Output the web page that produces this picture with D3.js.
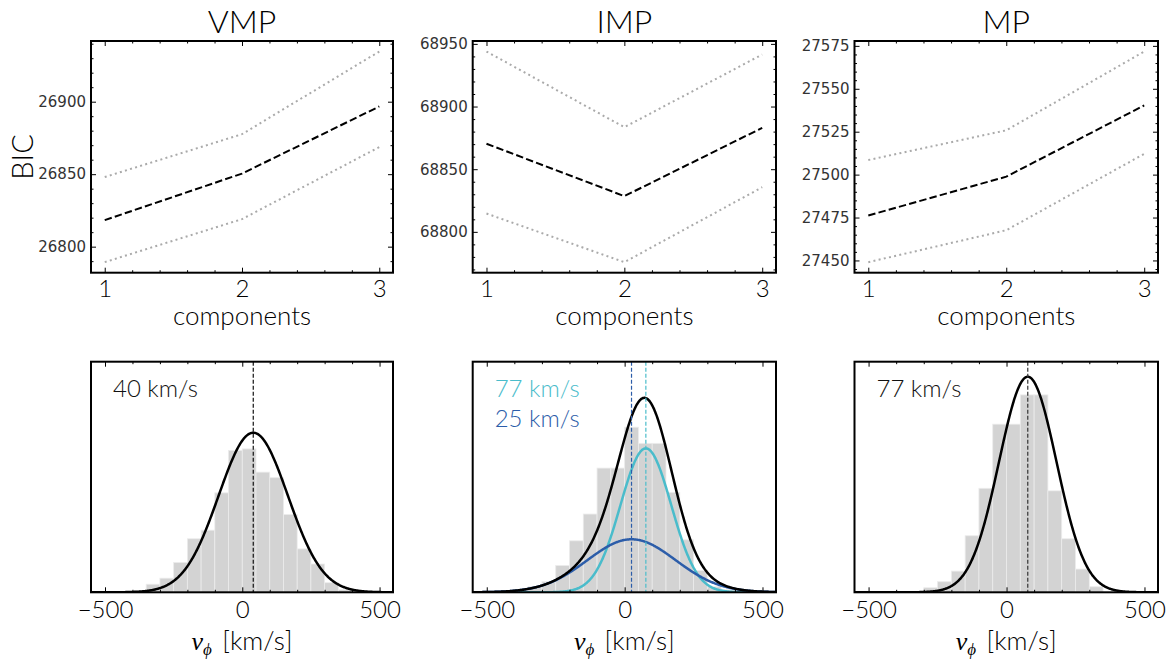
<!DOCTYPE html>
<html><head><meta charset="utf-8">
<script src="https://cdn.jsdelivr.net/npm/d3@7"></script>
<style>body{margin:0;background:#fff}svg{display:block}</style>
</head><body>
<svg id="c" width="1171" height="660"></svg>
<script>
// ---------------- data ----------------
const titles = ["VMP", "IMP", "MP"];
const components = [1, 2, 3];

const bicVMP = [26818.3, 26850.4, 26896.7];
const bicVMPUpper = [26848.0, 26877.6, 26934.6];
const bicVMPLower = [26789.3, 26819.0, 26868.7];

const bicIMP = [68870.3, 68828.5, 68883.0];
const bicIMPUpper = [68943.9, 68883.5, 68941.5];
const bicIMPLower = [68814.6, 68775.8, 68835.6];

const bicMP = [27476.2, 27498.8, 27540.3];
const bicMPUpper = [27508.5, 27525.8, 27571.7];
const bicMPLower = [27449.0, 27467.6, 27512.1];

const yTicksVMP = [26800, 26850, 26900];
const yTicksIMP = [68800, 68850, 68900, 68950];
const yTicksMP = [27450, 27475, 27500, 27525, 27550, 27575];
const yMinorStep = [10, 10, 5];

const xTicksTop = [1, 2, 3];
const xTicksBottom = [-500, 0, 500];

// histograms of v_phi (density, 1e-3 per km/s), bins of 50 km/s
const binWidth = 50;
const histVMPStart = -400;
const histVMP = [0.03, 0.16, 0.28, 0.59, 1.06, 1.23, 1.97, 2.81, 2.84, 2.38, 2.27, 1.54, 0.86, 0.56, 0.19, 0.05];
const histIMPStart = -350;
const histIMP = [0.11, 0.21, 0.53, 1.02, 1.55, 2.46, 2.46, 3.27, 2.95, 2.95, 1.98, 1.04, 0.43, 0.11, 0.05];
const histMPStart = -350;
const histMP = [0.01, 0.09, 0.21, 0.42, 1.12, 2.06, 3.33, 3.33, 3.91, 3.91, 2.01, 1.06, 0.46, 0.11];

// gaussian components: mean, sigma, peak amplitude (same units as histogram)
const compVMP = [{mu: 40, sigma: 126, amp: 3.16}];
const compIMP = [{mu: 77, sigma: 92, amp: 2.85}, {mu: 25, sigma: 160, amp: 1.05}];
const compMP = [{mu: 77, sigma: 104, amp: 4.27}];
const histYMax = [4.567, 4.567, 4.567];

const labelsVMP = ["40 km/s"];
const labelsIMP = ["77 km/s", "25 km/s"];
const labelsMP = ["77 km/s"];

// ---------------- layout / style ----------------
const CYAN = "#4abccb", BLUE = "#2c5da9";
const FONT = "Lato, 'Open Sans', sans-serif";
const FW = 300;
const cols = [{x0: 91, x1: 393}, {x0: 472.7, x1: 776}, {x0: 854.5, x1: 1158}];
const rowTop = {y0: 41, y1: 272.7};
const rowBot = {y0: 361.7, y1: 592.3};

const svg = d3.select("#c");

const topData = [
  {mid: bicVMP, up: bicVMPUpper, lo: bicVMPLower, yt: yTicksVMP},
  {mid: bicIMP, up: bicIMPUpper, lo: bicIMPLower, yt: yTicksIMP},
  {mid: bicMP, up: bicMPUpper, lo: bicMPLower, yt: yTicksMP}
];
const botData = [
  {start: histVMPStart, h: histVMP, comps: compVMP, labels: labelsVMP, colors: ["#111"], lineColors: ["#111"]},
  {start: histIMPStart, h: histIMP, comps: compIMP, labels: labelsIMP, colors: [CYAN, BLUE], lineColors: [CYAN, BLUE]},
  {start: histMPStart, h: histMP, comps: compMP, labels: labelsMP, colors: ["#111"], lineColors: ["#333"]}
];

function styleAxis(g, fs, family, color, weight) {
  g.select(".domain").remove();
  g.selectAll(".tick line").attr("stroke", "#000").attr("stroke-width", 1);
  g.selectAll(".tick text").attr("font-size", fs).attr("font-family", family)
    .attr("font-weight", weight || FW).attr("fill", color || "#000");
}

function minorVals(domain, step, majors) {
  const out = [];
  const s = Math.ceil(domain[0] / step) * step;
  for (let v = s; v <= domain[1] + 1e-9; v += step) {
    const r = Math.round(v * 1000) / 1000;
    if (!majors.some(m => Math.abs(m - r) < 1e-6)) out.push(r);
  }
  return out;
}

topData.forEach((d, i) => {
  const c = cols[i];
  const x = d3.scaleLinear().domain([0.9, 3.1]).range([c.x0, c.x1]);
  const all = d.up.concat(d.lo, d.mid);
  const [mn, mx] = d3.extent(all);
  const pad = (mx - mn) * 0.05;
  const y = d3.scaleLinear().domain([mn - pad, mx + pad]).range([rowTop.y1, rowTop.y0]);
  const g = svg.append("g");
  const line = d3.line().x((v, k) => x(components[k])).y(v => y(v));
  g.append("path").attr("d", line(d.up)).attr("fill", "none").attr("stroke", "#aaaaaa").attr("stroke-width", 2).attr("stroke-dasharray", "2,3.3");
  g.append("path").attr("d", line(d.lo)).attr("fill", "none").attr("stroke", "#aaaaaa").attr("stroke-width", 2).attr("stroke-dasharray", "2,3.3");
  g.append("path").attr("d", line(d.mid)).attr("fill", "none").attr("stroke", "#000").attr("stroke-width", 2).attr("stroke-dasharray", "7.4,3.2");

  const xMinor = minorVals([0.9, 3.1], 0.2, xTicksTop);
  const yMinor = minorVals(y.domain(), yMinorStep[i], d.yt);
  g.append("g").attr("transform", `translate(0,${rowTop.y1})`)
    .call(d3.axisBottom(x).tickValues(xTicksTop).tickSize(-5).tickPadding(7).tickFormat(d3.format("d")))
    .call(a => styleAxis(a, 24, FONT));
  g.append("g").attr("transform", `translate(0,${rowTop.y1})`)
    .call(d3.axisBottom(x).tickValues(xMinor).tickSize(-2.5).tickFormat(""))
    .call(a => styleAxis(a, 1, FONT));
  g.append("g").attr("transform", `translate(0,${rowTop.y0})`)
    .call(d3.axisTop(x).tickValues(xTicksTop).tickSize(-5).tickFormat(""))
    .call(a => styleAxis(a, 1, FONT));
  g.append("g").attr("transform", `translate(0,${rowTop.y0})`)
    .call(d3.axisTop(x).tickValues(xMinor).tickSize(-2.5).tickFormat(""))
    .call(a => styleAxis(a, 1, FONT));
  g.append("g").attr("transform", `translate(${c.x0},0)`)
    .call(d3.axisLeft(y).tickValues(d.yt).tickSize(-5).tickPadding(5).tickFormat(d3.format("d")))
    .call(a => styleAxis(a, 15, "'DejaVu Sans', sans-serif", "#333", 400));
  g.append("g").attr("transform", `translate(${c.x0},0)`)
    .call(d3.axisLeft(y).tickValues(yMinor).tickSize(-2.5).tickFormat(""))
    .call(a => styleAxis(a, 1, FONT));
  g.append("g").attr("transform", `translate(${c.x1},0)`)
    .call(d3.axisRight(y).tickValues(d.yt).tickSize(-5).tickFormat(""))
    .call(a => styleAxis(a, 1, FONT));
  g.append("g").attr("transform", `translate(${c.x1},0)`)
    .call(d3.axisRight(y).tickValues(yMinor).tickSize(-2.5).tickFormat(""))
    .call(a => styleAxis(a, 1, FONT));

  g.append("rect").attr("x", c.x0).attr("y", rowTop.y0).attr("width", c.x1 - c.x0).attr("height", rowTop.y1 - rowTop.y0)
    .attr("fill", "none").attr("stroke", "#000").attr("stroke-width", 2);

  svg.append("text").attr("x", (c.x0 + c.x1) / 2).attr("y", 33).attr("text-anchor", "middle")
    .attr("font-family", FONT).attr("font-weight", FW).attr("font-size", 32).text(titles[i]);
  svg.append("text").attr("x", (c.x0 + c.x1) / 2).attr("y", 325).attr("text-anchor", "middle")
    .attr("font-family", FONT).attr("font-weight", FW).attr("font-size", 26).text("components");
});

svg.append("text").attr("transform", `translate(33,157) rotate(-90)`).attr("text-anchor", "middle")
  .attr("font-family", FONT).attr("font-weight", FW).attr("font-size", 29).text("BIC");

const gauss = (v, p) => p.amp * Math.exp(-((v - p.mu) ** 2) / (2 * p.sigma * p.sigma));

botData.forEach((d, i) => {
  const c = cols[i];
  const x = d3.scaleLinear().domain([-551, 549]).range([c.x0, c.x1]);
  const y = d3.scaleLinear().domain([0, histYMax[i]]).range([rowBot.y1, rowBot.y0]);
  const g = svg.append("g");
  const clipId = "clip" + i;
  svg.append("clipPath").attr("id", clipId).append("rect")
    .attr("x", c.x0).attr("y", rowBot.y0).attr("width", c.x1 - c.x0).attr("height", rowBot.y1 - rowBot.y0);
  const pg = g.append("g").attr("clip-path", `url(#${clipId})`);
  const bins = d.h.map((v, k) => ({x0: d.start + k * binWidth, x1: d.start + (k + 1) * binWidth, v}));
  pg.selectAll("rect.bar").data(bins).join("rect").attr("class", "bar")
    .attr("x", b => x(b.x0)).attr("width", b => x(b.x1) - x(b.x0))
    .attr("y", b => y(b.v)).attr("height", b => y(0) - y(b.v))
    .attr("fill", "#d3d3d3").attr("stroke", "#ececec").attr("stroke-width", 0.8);

  const xs = d3.range(-551, 550, 2);
  const line = d3.line().x(p => x(p[0])).y(p => y(p[1]));
  if (d.comps.length > 1) {
    d.comps.forEach((p, k) => {
      pg.append("path").attr("d", line(xs.map(v => [v, gauss(v, p)])))
        .attr("fill", "none").attr("stroke", d.lineColors[k]).attr("stroke-width", 2.5);
    });
  }
  pg.append("path").attr("d", line(xs.map(v => [v, d3.sum(d.comps, p => gauss(v, p))])))
    .attr("fill", "none").attr("stroke", "#000").attr("stroke-width", 2.5);
  d.comps.forEach((p, k) => {
    pg.append("line").attr("x1", x(p.mu)).attr("x2", x(p.mu)).attr("y1", rowBot.y0).attr("y2", rowBot.y1)
      .attr("stroke", d.lineColors[k]).attr("stroke-width", 1.2).attr("stroke-dasharray", "4,2");
  });

  const xMinor = minorVals([-551, 549], 100, xTicksBottom);
  g.append("g").attr("transform", `translate(0,${rowBot.y1})`)
    .call(d3.axisBottom(x).tickValues(xTicksBottom).tickSize(-5).tickPadding(9).tickFormat(v => v < 0 ? "\u2212" + Math.abs(v) : v))
    .call(a => styleAxis(a, 24, FONT));
  g.append("g").attr("transform", `translate(0,${rowBot.y1})`)
    .call(d3.axisBottom(x).tickValues(xMinor).tickSize(-2.5).tickFormat(""))
    .call(a => styleAxis(a, 1, FONT));
  g.append("g").attr("transform", `translate(0,${rowBot.y0})`)
    .call(d3.axisTop(x).tickValues(xTicksBottom).tickSize(-5).tickFormat(""))
    .call(a => styleAxis(a, 1, FONT));
  g.append("g").attr("transform", `translate(0,${rowBot.y0})`)
    .call(d3.axisTop(x).tickValues(xMinor).tickSize(-2.5).tickFormat(""))
    .call(a => styleAxis(a, 1, FONT));

  g.append("rect").attr("x", c.x0).attr("y", rowBot.y0).attr("width", c.x1 - c.x0).attr("height", rowBot.y1 - rowBot.y0)
    .attr("fill", "none").attr("stroke", "#000").attr("stroke-width", 2);

  d.labels.forEach((t, k) => {
    g.append("text").attr("x", c.x0 + 22).attr("y", 397 + k * 30)
      .attr("font-family", FONT).attr("font-weight", FW).attr("font-size", 24).attr("fill", d.colors[k]).text(t);
  });

  const xl = svg.append("text").attr("x", (c.x0 + c.x1) / 2).attr("y", 650).attr("text-anchor", "middle")
    .attr("font-family", FONT).attr("font-weight", FW).attr("font-size", 26);
  xl.append("tspan").attr("font-family", "'Liberation Serif', serif").attr("font-style", "italic").attr("font-weight", 400).text("v");
  xl.append("tspan").attr("font-family", "'Liberation Serif', serif").attr("font-style", "italic").attr("font-weight", 400)
    .attr("font-size", 17).attr("dy", 5).text("\u03d5");
  xl.append("tspan").attr("dy", -5).text("\u2009 [km/s]");
});
</script>
</body></html>
